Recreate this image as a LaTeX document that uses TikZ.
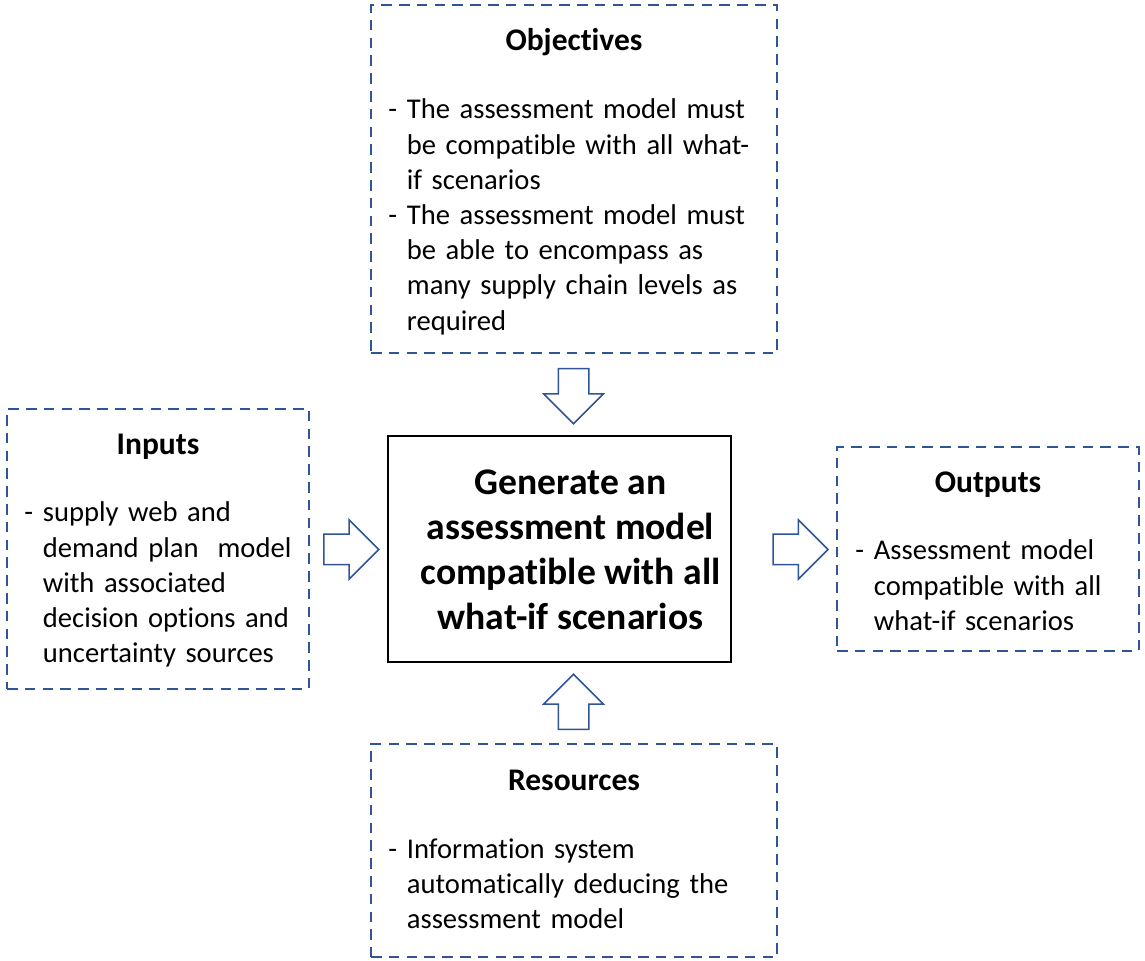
\documentclass[tikz,border=0pt]{standalone}
\usepackage{fontspec}
\setmainfont{Carlito}[Ligatures=NoCommon]
\usepackage{tikz}
\usetikzlibrary{shapes.arrows}
\definecolor{boxblue}{HTML}{2F5597}
\newlength\bind
\setlength\bind{9.25pt}
\newcommand\bitem[1]{\noindent\hangindent=\bind\hangafter=1\hbox to\bind{-\hss}#1\par}

\begin{document}
\begin{tikzpicture}[x=0.5pt,y=-0.5pt,
    box/.style={draw=boxblue,line width=1pt,dash pattern=on 5.3pt off 3.6pt,inner sep=0pt},
    head/.style={anchor=base,inner sep=0pt,font=\fontsize{15.75}{17.6}\selectfont\bfseries},
    list/.style={anchor=base west,inner sep=0pt,align=left,font=\fontsize{14.3}{17.6}\selectfont},
    main/.style={draw,line width=1.25pt,inner sep=0pt},
    maintext/.style={inner sep=0pt,align=center,font=\fontsize{18.8}{22.5}\selectfont\bfseries},
    barrow/.style={single arrow,draw=boxblue,line width=0.75pt,inner xsep=0pt,inner ysep=7.25pt,
        minimum height=27.5pt,single arrow head extend=7.25pt,anchor=tail}]

    \useasboundingbox (0,0) rectangle (1145,961);

    \node[main, minimum width=171.5pt, minimum height=113pt] (gen) at (559.5,549) {};
    \node[maintext] (gent) at ([xshift=5.5pt,yshift=-0.5pt]gen.center)
    {Generate an\\assessment model\\compatible with all\\what-if scenarios};

    % objectives
    \node[box, minimum width=203pt, minimum height=174pt] (obj) at (574,179) {};
    \node[head] (objh) at ([yshift=-23.5pt]obj.north) {Objectives};
    \node[list, text width=191pt] (objl) at ([xshift=9pt,yshift=-57.5pt]obj.north west)
    {\bitem{The assessment model must\newline be compatible with all what-\newline if scenarios}%
     \bitem{The assessment model must\newline be able to encompass as\newline many supply chain levels as\newline required}};

    % inputs
    \node[box, minimum width=151pt, minimum height=140pt] (inp) at (158,549) {};
    \node[head] (inph) at ([yshift=-23.5pt]inp.north) {Inputs};
    \node[list, text width=139pt] (inpl) at ([xshift=9pt,yshift=-57pt]inp.north west)
    {\bitem{supply web and\newline demand plan\ \ model\newline with associated\newline decision options and\newline uncertainty sources}};

    % outputs
    \node[box, minimum width=151pt, minimum height=102pt] (out) at (988,549) {};
    \node[head] (outh) at ([yshift=-23.5pt]out.north) {Outputs};
    \node[list, text width=139pt] (outl) at ([xshift=9.5pt,yshift=-57pt]out.north west)
    {\bitem{Assessment model\newline compatible with all\newline what-if scenarios}};

    % resources
    \node[box, minimum width=203pt, minimum height=106.5pt] (res) at (574,850.5) {};
    \node[head] (resh) at ([yshift=-23.5pt]res.north) {Resources};
    \node[list, text width=191pt] (resl) at ([xshift=9pt,yshift=-57.5pt]res.north west)
    {\bitem{Information system\newline automatically deducing the\newline assessment model}};

    \node[barrow, rotate=270] (a1) at ([xshift=-0.25pt,yshift=-7pt]obj.south) {};
    \node[barrow] (a2) at ([xshift=6.5pt,yshift=-0.25pt]inp.east) {};
    \node[barrow] (a3) at ([xshift=20pt,yshift=-0.25pt]gen.east) {};
    \node[barrow, rotate=90] (a4) at ([xshift=-0.25pt,yshift=6.5pt]res.north) {};
\end{tikzpicture}
\end{document}
